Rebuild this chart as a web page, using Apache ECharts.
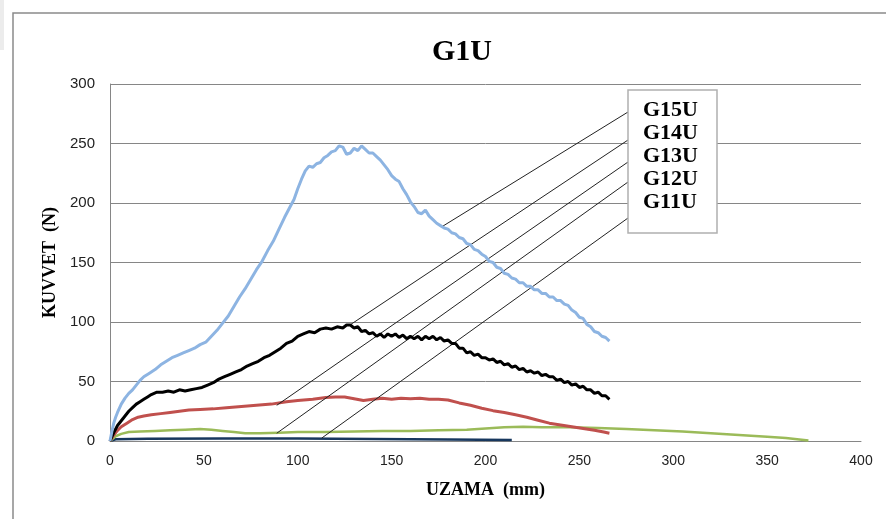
<!DOCTYPE html>
<html>
<head>
<meta charset="utf-8">
<script src="https://cdn.jsdelivr.net/npm/echarts@6/dist/echarts.min.js"></script>
<style>
  html, body { margin: 0; padding: 0; background: #fff; }
  #chart { width: 886px; height: 519px; }
</style>
</head>
<body>
<div id="chart"></div>
<script>
// Force (N) against elongation (mm) for the G1U specimen group
const xTicks = [0, 50, 100, 150, 200, 250, 300, 350, 400];
const yTicks = [0, 50, 100, 150, 200, 250, 300];
const seriesNames = ['G15U', 'G14U', 'G13U', 'G12U', 'G11U'];

const g15u = [
  [0,0],[1,8],[2,15],[3,20],[4,24],[6,31],[8,36],[10,40],[12,43],[14,47],[16,51],[18,54],
  [21,57],[24,60],[27,64],[30,67],[33,70],[36,72],[39,74],[42,76],[45,78],[48,81],[51,83],
  [54,88],[57,93],[60,99],[63,105],[66,113],[69,121],[72,128],[75,136],[78,144],[81,151],
  [84,160],[87,168],[90,178],[93,188],[96,197],[98,203],[100,212],[102,220],[104,227],
  [106,231],[108,230],[110,233],[112,234],[114,238],[116,240],[118,243],[120,244],[122,248],
  [124,247],[126,241],[128,242],[130,246],[132,244],[134,248],[136,245],[138,242],[140,242],
  [142,239],[144,236],[146,232],[148,228],[150,223],[152,220],[154,218],[156,212],[158,207],
  [160,201],[162,197],[164,192],[166,191],[168,194],[170,189],[172,186],[174,183],[176,181],
  [178,179],[180,178],[182,175],[184,174],[186,171],[188,170],[190,166],[192,165],[194,161],
  [196,160],[198,157],[200,155],[202,151],[204,150],[206,146],[208,145],[210,141],[212,140],
  [214,137],[216,136],[218,133],[220,133],[222,130],[224,130],[226,127],[228,127],[230,124],
  [232,124],[234,121],[236,121],[238,118],[240,118],[242,115],[244,114],[246,110],[248,108],
  [250,104],[252,103],[254,98],[256,96],[258,92],[260,91],[262,88],[264,87],[266,84]
];

const g14u = [
  [0,0],[2,7],[4,13],[6,17],[8,21],[10,25],[12,28],[14,31],[16,33],[18,35],[20,37],[22,39],
  [25,41],[28,41],[31,42],[34,41],[37,43],[40,42],[43,43],[46,44],[49,45],[52,47],[55,49],
  [58,52],[61,54],[64,56],[67,58],[70,60],[73,63],[76,65],[79,67],[82,70],[85,72],[88,75],
  [91,78],[94,82],[97,84],[100,88],[103,90],[106,92],[109,91],[112,94],[115,95],[118,94],
  [121,96],[124,95],[126,97.5],[128,97.5],[130,95],[132,96],[134,92],[136,93],[138,90],
  [140,91],[142,88],[144,90],[146,87],[148,90],[150,88],[152,90],[154,87],[156,89],[158,86],
  [160,88],[162,86],[164,88],[166,85],[168,88],[170,86],[172,88],[174,85],[176,87],[178,84],
  [180,85],[182,82],[184,82],[186,78],[188,78],[190,74],[192,75],[194,72],[196,73],[198,70],
  [200,70],[202,68],[204,69],[206,66],[208,67],[210,64],[212,65],[214,62],[216,63],[218,60],
  [220,61],[222,58],[224,59],[226,57],[228,58],[230,55],[232,56],[234,54],[236,54],[238,51],
  [240,52],[242,49],[244,50],[246,47],[248,48],[250,45],[252,46],[254,43],[256,43],[258,40],
  [260,41],[262,38],[264,38],[266,35]
];

const g13u = [
  [0,0],[2,5],[4,9],[6,12],[9,15],[12,18],[15,20],[18,21],[22,22],[27,23],[32,24],[37,25],
  [42,26],[48,26.5],[55,27],[62,28],[70,29],[78,30],[86,31],[94,33],[100,34],[108,35],
  [115,36.5],[120,37],[125,37],[130,35.5],[135,34],[140,35],[145,36],[150,35],[155,36],
  [160,35.5],[165,36],[170,35],[175,35],[180,34.5],[186,32],[192,30],[198,27.5],[204,25.5],
  [210,24],[216,22],[222,20],[228,17.5],[234,15],[240,13.5],[246,12],[252,10.5],[258,9],
  [263,7.5],[266,6.5]
];

const g12u = [
  [0,0],[3,4],[6,6],[10,7.5],[16,8],[24,8.5],[32,9],[40,9.5],[48,10],[54,9.5],[60,8.5],
  [66,7.5],[72,6.5],[80,6.5],[90,7],[100,7.5],[115,7.5],[130,8],[145,8.5],[160,8.5],
  [175,9],[190,9.5],[200,10.5],[210,11.5],[220,12],[230,11.5],[245,11.5],[260,11],[275,10],
  [290,9],[305,8],[320,6.5],[335,5],[350,3.5],[360,2.5],[372,0.5]
];

const g11u = [
  [0,0],[3,1.5],[20,1.8],[60,2],[100,2],[140,1.7],[180,1.2],[214,0.8]
];

// Where each series' label sits on the label box (pixel) and the point it labels (data)
const labelAnchorsPx = [[628,112],[628,140],[628,162],[628,182],[628,218]];
const labelPoints = [[176.7,180],[127.8,97.5],[88.8,30],[88.8,6.5],[112.8,2.5]];

const seriesData = [g15u, g14u, g13u, g12u, g11u];
const colors = ['#8DB4E2', '#000000', '#C0504D', '#9BBB59', '#17375E'];
const widths = [3, 3, 3, 2.5, 2.5];

const chart = echarts.init(document.getElementById('chart'));

const series = seriesNames.map((name, i) => ({
  name,
  type: 'line',
  data: seriesData[i],
  showSymbol: false,
  symbol: 'none',
  smooth: false,
  lineStyle: { color: colors[i], width: widths[i] },
  itemStyle: { color: colors[i] },
  z: 2 + (4 - i),
  markLine: {
    silent: true,
    symbol: 'none',
    animation: false,
    label: { show: false },
    lineStyle: { color: '#222', width: 1, type: 'solid' },
    emphasis: { disabled: true },
    data: [[
      { coord: labelPoints[i] },
      { x: labelAnchorsPx[i][0], y: labelAnchorsPx[i][1] }
    ]]
  }
}));

chart.setOption({
  animation: false,
  backgroundColor: '#fff',
  title: {
    text: 'G1U',
    left: 427,
    top: 32,
    textStyle: { fontFamily: 'Liberation Serif', fontWeight: 'bold', fontSize: 30, color: '#000' }
  },
  legend: {
    data: seriesNames,
    orient: 'vertical',
    left: 628,
    top: 90,
    icon: 'rect',
    itemWidth: 0,
    itemHeight: 0,
    itemGap: 0,
    selectedMode: false,
    backgroundColor: '#fff',
    borderColor: '#b0b0b0',
    borderWidth: 1.5,
    padding: [9, 19, 19, 10],
    textStyle: { fontFamily: 'Liberation Serif', fontWeight: 'bold', fontSize: 22, lineHeight: 23, color: '#000' },
    z: 10
  },
  grid: { left: 110, right: 25, top: 84, bottom: 78 },
  xAxis: {
    type: 'value',
    min: xTicks[0],
    max: xTicks[xTicks.length - 1],
    interval: 50,
    name: 'UZAMA  (mm)',
    nameLocation: 'middle',
    nameGap: 40,
    nameTextStyle: { fontFamily: 'Liberation Serif', fontWeight: 'bold', fontSize: 18, color: '#000' },
    axisLine: { show: true, lineStyle: { color: '#868686', width: 1 } },
    axisTick: { show: false },
    splitLine: { show: false },
    axisLabel: { margin: 13, fontFamily: 'Liberation Sans', fontSize: 14, color: '#222' }
  },
  yAxis: {
    type: 'value',
    min: yTicks[0],
    max: yTicks[yTicks.length - 1],
    interval: 50,
    name: 'KUVVET  (N)',
    nameLocation: 'middle',
    nameRotate: 90,
    nameGap: 49,
    nameTextStyle: { fontFamily: 'Liberation Serif', fontWeight: 'bold', fontSize: 18, color: '#000' },
    axisLine: { show: true, lineStyle: { color: '#868686', width: 1 } },
    axisTick: { show: false },
    splitLine: { show: true, lineStyle: { color: '#868686', width: 1 } },
    axisLabel: { margin: 15, fontFamily: 'Liberation Sans', fontSize: 15, color: '#222' }
  },
  graphic: [
    { type: 'rect', shape: { x: 0, y: 0, width: 4, height: 50 }, style: { fill: '#ececec' }, silent: true },
    { type: 'rect', shape: { x: 13, y: 13, width: 890, height: 520 }, style: { fill: 'none', stroke: '#8a8a8a', lineWidth: 1.5 }, silent: true, z: -1 }
  ],
  series
});
</script>
</body>
</html>
